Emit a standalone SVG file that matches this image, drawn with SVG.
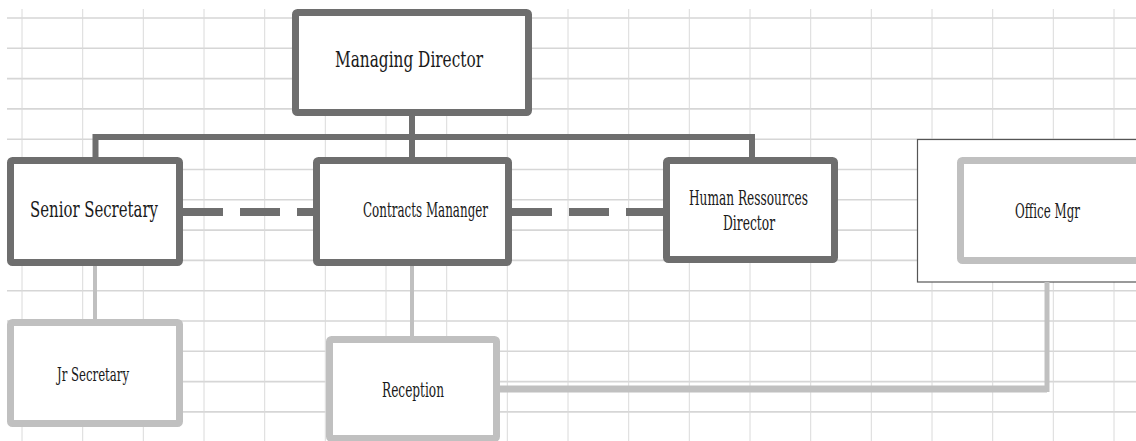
<svg xmlns="http://www.w3.org/2000/svg" width="1136" height="441" viewBox="0 0 1136 441">
<defs>
<style>
.gh{stroke:#d6d6d6;stroke-width:1.6}
.gv{stroke:#dadada;stroke-width:1}
.dark{fill:#fff;stroke:#6e6e6e;stroke-width:7}
.light{fill:#fff;stroke:#c0c0c0;stroke-width:7}
.t{font-family:"DejaVu Serif","Liberation Serif",serif;fill:#1a1a1a;text-anchor:middle}
.cd{stroke:#6e6e6e;fill:none}
.cl{stroke:#c0c0c0;fill:none}
</style>
</defs>
<rect width="1136" height="441" fill="#fff"/>
<g id="grid">
<line class="gh" x1="7" y1="18" x2="1136" y2="18"/>
<line class="gh" x1="7" y1="48.3" x2="1136" y2="48.3"/>
<line class="gh" x1="7" y1="78.6" x2="1136" y2="78.6"/>
<line class="gh" x1="7" y1="108.9" x2="1136" y2="108.9"/>
<line class="gh" x1="7" y1="139.2" x2="1136" y2="139.2"/>
<line class="gh" x1="7" y1="169.5" x2="1136" y2="169.5"/>
<line class="gh" x1="7" y1="199.8" x2="1136" y2="199.8"/>
<line class="gh" x1="7" y1="230.1" x2="1136" y2="230.1"/>
<line class="gh" x1="7" y1="260.4" x2="1136" y2="260.4"/>
<line class="gh" x1="7" y1="290.7" x2="1136" y2="290.7"/>
<line class="gh" x1="7" y1="321" x2="1136" y2="321"/>
<line class="gh" x1="7" y1="351.3" x2="1136" y2="351.3"/>
<line class="gh" x1="7" y1="381.6" x2="1136" y2="381.6"/>
<line class="gh" x1="7" y1="411.9" x2="1136" y2="411.9"/>
<line class="gv" x1="22" y1="9" x2="22" y2="441"/>
<line class="gv" x1="82.7" y1="9" x2="82.7" y2="441"/>
<line class="gv" x1="143.3" y1="9" x2="143.3" y2="441"/>
<line class="gv" x1="204" y1="9" x2="204" y2="441"/>
<line class="gv" x1="264.7" y1="9" x2="264.7" y2="441"/>
<line class="gv" x1="325.3" y1="9" x2="325.3" y2="441"/>
<line class="gv" x1="386" y1="9" x2="386" y2="441"/>
<line class="gv" x1="446.7" y1="9" x2="446.7" y2="441"/>
<line class="gv" x1="507.3" y1="9" x2="507.3" y2="441"/>
<line class="gv" x1="568" y1="9" x2="568" y2="441"/>
<line class="gv" x1="628.7" y1="9" x2="628.7" y2="441"/>
<line class="gv" x1="689.3" y1="9" x2="689.3" y2="441"/>
<line class="gv" x1="750" y1="9" x2="750" y2="441"/>
<line class="gv" x1="810.7" y1="9" x2="810.7" y2="441"/>
<line class="gv" x1="871.3" y1="9" x2="871.3" y2="441"/>
<line class="gv" x1="932" y1="9" x2="932" y2="441"/>
<line class="gv" x1="992.7" y1="9" x2="992.7" y2="441"/>
<line class="gv" x1="1053.3" y1="9" x2="1053.3" y2="441"/>
<line class="gv" x1="1114" y1="9" x2="1114" y2="441"/>
</g>
<g id="office-frame">
<rect x="917.5" y="139.5" width="230" height="142.5" fill="#fff" stroke="#555" stroke-width="1.2"/>
</g>
<g id="connectors">
<path class="cd" stroke-width="6" d="M412 116 V137 M95 137 H752 M95.5 134 V158 M412 134 V158 M752 134 V158"/>
<path class="cd" stroke-width="8" stroke-dasharray="40 17" d="M183 212 H313 M512 212 H663"/>
<path class="cl" stroke-width="4" d="M95 266 V320 M412 266 V337"/>
<path class="cl" stroke-width="7" d="M499 389 H1047"/>
<path class="cl" stroke-width="5" d="M1047 282 V392"/>
</g>
<g id="managing-director">
<rect class="dark" x="295.5" y="12.5" width="233" height="100" rx="2"/>
<text class="t" x="409" y="67" font-size="23" textLength="148" lengthAdjust="spacingAndGlyphs">Managing Director</text>
</g>
<g id="senior-secretary">
<rect class="dark" x="10.5" y="160.5" width="169" height="102" rx="2"/>
<text class="t" x="94" y="217" font-size="23" textLength="128" lengthAdjust="spacingAndGlyphs">Senior Secretary</text>
</g>
<g id="contracts-manager">
<rect class="dark" x="316.5" y="160.5" width="192" height="102" rx="2"/>
<text class="t" x="425.5" y="217" font-size="21" textLength="125" lengthAdjust="spacingAndGlyphs">Contracts Mananger</text>
</g>
<g id="hr-director">
<rect class="dark" x="666.5" y="160.5" width="168" height="99" rx="2"/>
<text class="t" x="748.5" y="205" font-size="21" textLength="119" lengthAdjust="spacingAndGlyphs">Human Ressources</text>
<text class="t" x="749" y="230" font-size="21" textLength="52" lengthAdjust="spacingAndGlyphs">Director</text>
</g>
<g id="office-mgr">
<rect class="light" x="960.5" y="160.5" width="200" height="100" rx="2"/>
<text class="t" x="1047.5" y="218" font-size="21" textLength="65" lengthAdjust="spacingAndGlyphs">Office Mgr</text>
</g>
<g id="jr-secretary">
<rect class="light" x="10.5" y="322.5" width="169" height="101" rx="2"/>
<text class="t" x="93" y="381" font-size="19" textLength="72" lengthAdjust="spacingAndGlyphs">Jr Secretary</text>
</g>
<g id="reception">
<rect class="light" x="329.5" y="339.5" width="167" height="99" rx="2"/>
<text class="t" x="413" y="397" font-size="20" textLength="62" lengthAdjust="spacingAndGlyphs">Reception</text>
</g>
</svg>
